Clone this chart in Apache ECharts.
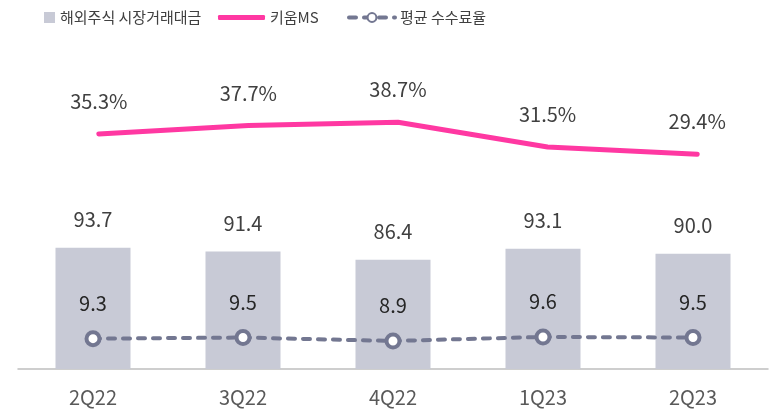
<!DOCTYPE html>
<html>
<head>
<meta charset="utf-8">
<script src="https://cdn.jsdelivr.net/npm/echarts@6/dist/echarts.min.js"></script>
<style>
  html, body { margin: 0; padding: 0; background: #fff; }
  #chart { width: 772px; height: 413px; }
</style>
</head>
<body>
<div id="chart"></div>
<script>
const quarters = ['2Q22', '3Q22', '4Q22', '1Q23', '2Q23'];
const tradeValue = [93.7, 91.4, 86.4, 93.1, 90.0];   // 해외주식 시장거래대금
const kiwoomMS = [35.3, 37.7, 38.7, 31.5, 29.4];     // 키움MS (%)
const avgFee = [9.3, 9.5, 8.9, 9.6, 9.5];            // 평균 수수료율

const font = '"Noto Sans CJK KR", "Noto Sans", sans-serif';
const txt = '#404040';
const legendText = { fontSize: 15, color: '#404040', fontFamily: font };

let chart = echarts.init(document.getElementById('chart'));

let option = {
    animation: false,
    textStyle: { fontFamily: font },
    legend: [{
        left: 44, top: 10, padding: 0,
        itemWidth: 11, itemHeight: 11,
        data: [{ name: '해외주식 시장거래대금', icon: 'rect' }],
        textStyle: legendText
    }, {
        left: 218, top: 10, padding: 0,
        itemWidth: 47, itemHeight: 5,
        data: [{ name: '키움MS', icon: 'roundRect' }],
        textStyle: legendText
    }, {
        left: 347, top: 10, padding: 0,
        itemWidth: 46, itemHeight: 11,
        data: ['평균 수수료율'],
        lineStyle: { width: 4 },
        textStyle: legendText
    }],
    // second grid: the pink line sits a few px right of the bar centres
    grid: [
        { left: 18, right: 4, top: 40, bottom: 44 },
        { left: 24, right: -2, top: 40, bottom: 44 }
    ],
    xAxis: [{
        type: 'category',
        data: quarters,
        axisLine: { onZero: false, lineStyle: { color: '#bfbfbf', width: 1.5 } },
        axisTick: { length: 7, lineStyle: { color: '#bfbfbf', width: 1.5 } },
        axisLabel: { fontSize: 20, color: '#595959', margin: 18, fontFamily: font }
    }, {
        type: 'category',
        gridIndex: 1,
        data: quarters,
        show: false
    }],
    yAxis: [
        { type: 'value', show: false, min: 20, max: 220 },
        { type: 'value', show: false, min: -32.8, max: 62.5, gridIndex: 1 },
        { type: 'value', show: false, min: 4, max: 61.5 }
    ],
    series: [{
        name: '해외주식 시장거래대금',
        type: 'bar',
        barWidth: '50%',
        data: tradeValue,
        itemStyle: { color: '#c8cad6' },
        label: {
            show: true, position: 'top', distance: 18,
            fontSize: 20, color: txt, fontFamily: font,
            formatter: p => p.value.toFixed(1)
        },
        z: 1
    }, {
        name: '키움MS',
        type: 'line',
        xAxisIndex: 1,
        yAxisIndex: 1,
        data: kiwoomMS,
        symbol: 'circle',
        symbolSize: 1,
        itemStyle: { color: '#ff38a2' },
        lineStyle: { color: '#ff38a2', width: 5, cap: 'round' },
        label: {
            show: true, position: 'top', distance: 22,
            fontSize: 20, color: txt, fontFamily: font,
            formatter: p => p.value.toFixed(1) + '%'
        },
        z: 3
    }, {
        name: '평균 수수료율',
        type: 'line',
        yAxisIndex: 2,
        data: avgFee,
        symbol: 'circle',
        symbolSize: 13,
        itemStyle: { color: '#ffffff', borderColor: '#737791', borderWidth: 4 },
        lineStyle: { color: '#737791', width: 4, type: [7, 8], cap: 'round' },
        label: {
            show: true, position: 'top', distance: 17,
            fontSize: 20, color: '#262626', fontFamily: font,
            formatter: p => p.value.toFixed(1)
        },
        z: 4
    }]
};

chart.setOption(option);
</script>
</body>
</html>
